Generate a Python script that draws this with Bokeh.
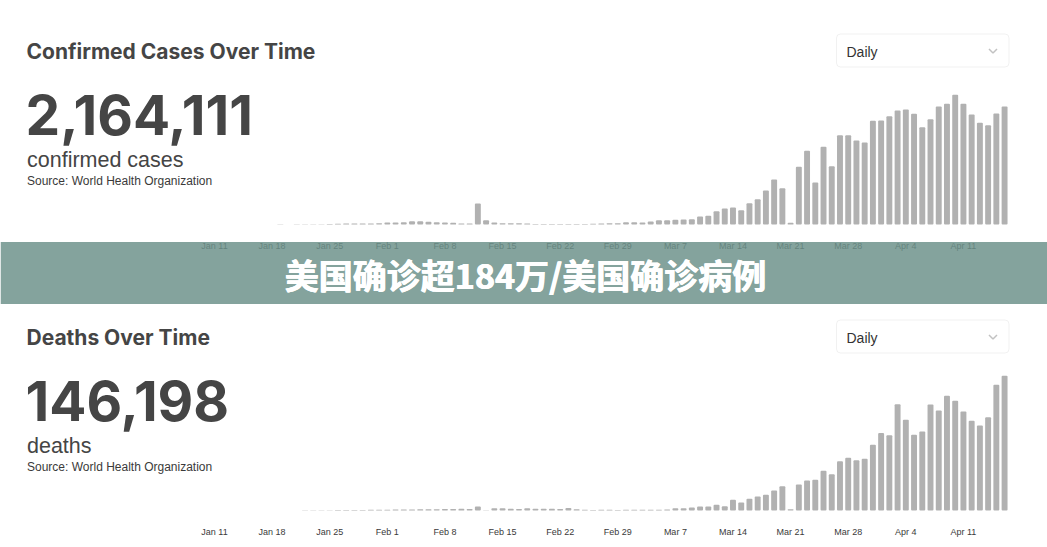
import pandas as pd
from bokeh.plotting import figure
from bokeh.models import Range1d, LinearAxis, FixedTicker, ColumnDataSource, BoxAnnotation
from bokeh.core.properties import value
from bokeh.embed import file_html
from bokeh.resources import INLINE

# ---------------- data ----------------
dates = pd.date_range("2020-01-11", "2020-04-16", freq="D")

daily_cases = [
    40, 0, 0, 0, 1, 0, 4, 17, 136, 19, 151, 140,                 # Jan 11-22
    150, 260, 400, 540, 780, 800, 790, 820, 1020,                 # Jan 23-31
    1540, 1560, 1800, 2560, 2540, 2080, 1790, 1540, 1310, 790,    # Feb 1-10
    770, 16170, 3310, 1540, 1000, 1010, 990, 770, 400, 380,       # Feb 11-20
    380, 360, 400, 450, 420, 600, 770, 1000, 1000,                # Feb 21-29
    1770, 1770, 1540, 2310, 3310, 3310, 3620, 3850, 4080, 6160,   # Mar 1-10
    6700, 10240, 12320, 13090, 11010, 16400, 19480, 26180, 34650, 27950,  # Mar 11-20
    1310, 44430, 56750, 32340, 59830, 44890, 68760, 68760, 64680, 63140, 79850,  # Mar 21-31
    80080, 83390, 87780, 88550, 85240, 74920, 81080, 90860,       # Apr 1-8
    92940, 99870, 92940, 84700, 78310, 76460, 85470, 90860,       # Apr 9-16
]

daily_deaths = [
    0, 0, 0, 0, 0, 0, 0, 0, 3, 1, 3, 8,                           # Jan 11-22
    8, 16, 15, 24, 26, 26, 38, 43, 46,                            # Jan 23-31
    45, 57, 64, 66, 73, 73, 86, 89, 97, 108,                      # Feb 1-10
    97, 254, 13, 143, 142, 105, 98, 136, 115, 118,                # Feb 11-20
    109, 97, 150, 71, 52, 29, 44, 44, 37,                         # Feb 21-29
    40, 45, 50, 55, 55, 60, 145, 145, 190, 250,                   # Mar 1-10
    250, 360, 270, 670, 500, 740, 880, 990, 1260, 1530,           # Mar 11-20
    80, 1640, 1890, 1930, 2500, 2290, 3110, 3320, 3170, 3260, 4140,  # Mar 21-31
    4890, 4740, 6700, 5710, 4770, 4980, 6680, 6300,               # Apr 1-8
    7230, 6910, 6240, 5650, 5360, 5880, 7920, 8490,               # Apr 9-16
]

tick_labels = ["Jan 11", "Jan 18", "Jan 25", "Feb 1", "Feb 8", "Feb 15", "Feb 22",
               "Feb 29", "Mar 7", "Mar 14", "Mar 21", "Mar 28", "Apr 4", "Apr 11"]

total_cases = 2164111
total_deaths = 146198

panel_titles = ["Confirmed Cases Over Time", "Deaths Over Time"]
panel_units = ["confirmed cases", "deaths"]
source_note = "Source: World Health Organization"
banner_text = "美国确诊超184万/美国确诊病例"

# ---------------- layout ----------------
W, FH = 1047, 520          # frame size (canvas px)
X0, DAY = 214.0, 8.23      # canvas x of first day, px per day
OFF = 286                  # vertical offset of second panel
TXT = "#454545"
BAR = "#b1b1b1"

p = figure(frame_width=W, frame_height=FH, output_backend="svg", toolbar_location=None,
           x_axis_location=None, y_axis_location=None, min_border=0,
           x_range=Range1d(-X0 / DAY, (W - X0) / DAY), y_range=Range1d(FH, 0))
p.outline_line_color = None
p.center = []
p.background_fill_color = "white"
p.border_fill_color = "white"

p.extra_x_ranges = {"px": Range1d(0, W)}
# cases baseline at y=224, 770 cases per px; deaths baseline at y=510, 63 per px
p.extra_y_ranges = {
    "cases": Range1d(-(FH - 224) * 770, 224 * 770),
    "deaths": Range1d(-(FH - 510) * 63, 510 * 63),
}

x_days = [int(d) for d in (dates - dates[0]).days]
src = ColumnDataSource(dict(x=x_days, cases=daily_cases, deaths=daily_deaths))

p.vbar(x="x", top="cases", width=0.72, source=src, y_range_name="cases",
       fill_color=BAR, line_color=None, border_radius=1)
p.vbar(x="x", top="deaths", width=0.72, source=src, y_range_name="deaths",
       fill_color=BAR, line_color=None, border_radius=1)

tick_x = [int((pd.Timestamp(l + " 2020") - dates[0]).days) for l in tick_labels]

# tick labels of the upper chart (sit under the banner)
p.text(x=tick_x, y=[245.5] * len(tick_x), text=tick_labels,
       text_font=value("Liberation Sans"), text_font_size="9px", text_color="#3a3a3a",
       text_align="center", text_baseline="middle")

# bottom axis (lower chart)
ax = LinearAxis(ticker=FixedTicker(ticks=tick_x),
                major_label_overrides={t: l for t, l in zip(tick_x, tick_labels)},
                axis_line_color=None, major_tick_line_color=None, minor_tick_line_color=None,
                major_tick_out=0, major_tick_in=0, major_label_standoff=6,
                major_label_text_font_size="9px", major_label_text_color="#3a3a3a",
                major_label_text_font="Liberation Sans")
p.add_layout(ax, "below")


def txt(x, y, s, size, font, bold=False, color=TXT, align="left"):
    p.text(x=[x], y=[y], text=[s], x_range_name="px",
           text_font=value(font), text_font_size=size,
           text_font_style="bold" if bold else "normal",
           text_color=color, text_align=align, text_baseline="middle")


totals = [f"{total_cases:,}", f"{total_deaths:,}"]
for i in range(2):
    dy = OFF * i
    txt(26, 50.5 + dy, panel_titles[i], "21px", "Inter", bold=True)
    txt(25, 114 + dy, totals[i], "55px", "Inter", bold=True)
    txt(26.5, 159.5 + dy, panel_units[i], "21.5px", "Liberation Sans")
    txt(26.5, 180.5 + dy, source_note, "12px", "Liberation Sans", color="#3a3a3a")
    # dropdown
    box = BoxAnnotation(left=836, right=1008.5, top=33.5 + dy, bottom=66.5 + dy,
                        x_range_name="px", fill_color=None, line_color="#cfcfcf",
                        line_width=1, border_radius=4)
    p.add_layout(box)
    txt(846, 51 + dy, "Daily", "14px", "Liberation Sans", color="#333333")
    p.line(x=[988.5, 992.5, 996.5], y=[48.5 + dy, 52.5 + dy, 48.5 + dy], x_range_name="px",
           line_color="#c2c2c2", line_width=1.5)

# banner
p.quad(left=[0], right=[W], top=[241.5], bottom=[303.5], x_range_name="px",
       fill_color="#6d918a", fill_alpha=0.84, line_color=None)
for ddx in (-0.5, 0.0, 0.5):
    txt(525 + ddx, 273.5, banner_text, "34px", "Noto Sans CJK SC", bold=True, color="white",
        align="center")

open("out.html", "w").write(file_html(p, INLINE))
